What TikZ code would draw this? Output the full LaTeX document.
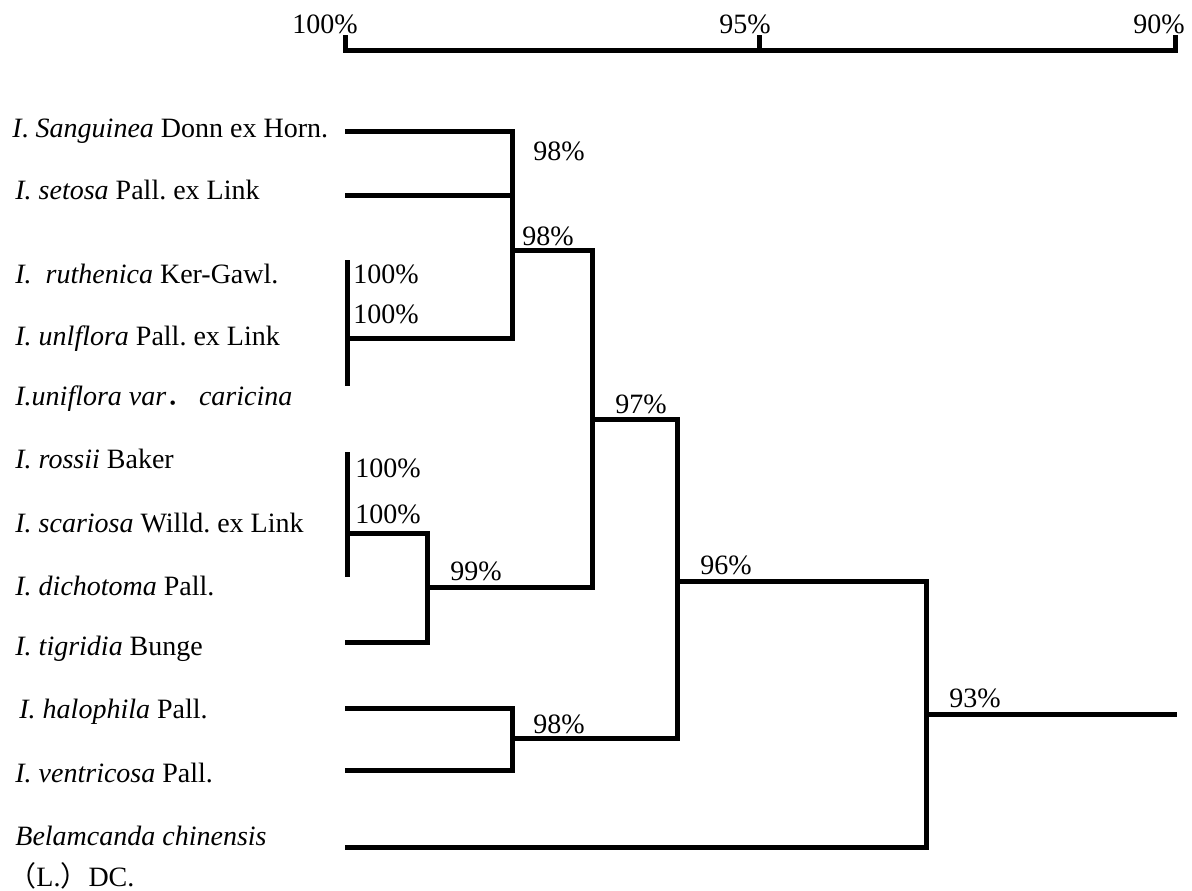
\documentclass[tikz,border=0pt]{standalone}
\usepackage{fontspec}
\setmainfont{Liberation Serif}
\newfontfamily\cjk{Noto Sans CJK SC}
\usetikzlibrary{positioning}

\begin{document}
\frenchspacing
\begin{tikzpicture}[x=0.5pt, y=-0.5pt,
      branch/.style={line width=2.5pt, line join=miter},
      taxon/.style={anchor=base west, inner sep=0pt, font=\fontsize{14}{17}\selectfont},
      sim/.style={anchor=base west, inner sep=0pt, font=\fontsize{14}{17}\selectfont},
      scalelab/.style={anchor=base east, inner sep=0pt, font=\fontsize{14}{17}\selectfont}
  ]
    \useasboundingbox (0,0) rectangle (1192,890);

    % similarity scale
    \coordinate (s100) at (345,50);
    \coordinate (s95)  at (759,50);
    \coordinate (s90)  at (1175,50);
    \draw[branch] ([yshift=7.5pt]s100) -- (s100) -- (s90) -- ([yshift=7.5pt]s90);
    \draw[branch] ([yshift=7.5pt]s95) -- (s95);
    \node[scalelab] (lab100) at (358,33)  {100\%};
    \node[scalelab] (lab95)  at (771,33)  {95\%};
    \node[scalelab] (lab90)  at (1185,33) {90\%};

    % taxa
    \node[taxon] (sanguinea)  at (12,137)  {\textit{I}. \textit{Sanguinea} Donn ex Horn.};
    \node[taxon] (setosa)     at (15,199)  {\textit{I. setosa} Pall. ex Link};
    \node[taxon] (ruthenica)  at (15,283)  {\textit{I.~~ruthenica} Ker-Gawl.};
    \node[taxon] (unlflora)   at (15,345)  {\textit{I. unlflora} Pall. ex Link};
    \node[taxon] (uniflora)   at (15,405)  {\textit{I.uniflora var}{\cjk ．}\,\textit{caricina}};
    \node[taxon] (rossii)     at (15,468)  {\textit{I. rossii} Baker};
    \node[taxon] (scariosa)   at (15,532)  {\textit{I. scariosa} Willd. ex Link};
    \node[taxon] (dichotoma)  at (15,595)  {\textit{I. dichotoma} Pall.};
    \node[taxon] (tigridia)   at (15,655)  {\textit{I. tigridia} Bunge};
    \node[taxon] (halophila)  at (19,718)  {\textit{I. halophila} Pall.};
    \node[taxon] (ventricosa) at (15,782)  {\textit{I. ventricosa} Pall.};
    \node[taxon] (belamcanda) at (15,845)  {\textit{Belamcanda chinensis}};
    \node[taxon] (belauthor)  at (8,886)   {{\cjk （}L.{\cjk ）}DC.};

    % leaf tips and clades
    \coordinate (tSang) at (345,131);
    \coordinate (tSet)  at (345,195);
    \coordinate (cUtop) at (347,260);
    \coordinate (cU)    at (347,338);
    \coordinate (cUbot) at (347,386);
    \coordinate (cRtop) at (347,452);
    \coordinate (cR)    at (347,533);
    \coordinate (cRbot) at (347,577);
    \coordinate (tTig)  at (345,642);
    \coordinate (tHal)  at (345,708);
    \coordinate (tVen)  at (345,770);
    \coordinate (tBel)  at (345,847);

    \coordinate (n1)   at (512,250);
    \coordinate (n2)   at (427,587);
    \coordinate (n3)   at (592,419);
    \coordinate (n4)   at (512,738);
    \coordinate (n5)   at (677,581);
    \coordinate (n6)   at (926,714);
    \coordinate (root) at (1177,714);

    \draw[branch] (cUtop) -- (cUbot);
    \draw[branch] (cRtop) -- (cRbot);
    \draw[branch] (tSang) -| (n1) |- (cU);
    \draw[branch] (tSet) -- (tSet -| n1);
    \draw[branch] (cR) -| (n2) |- (tTig);
    \draw[branch] (n1) -| (n3) |- (n2);
    \draw[branch] (tHal) -| (n4) |- (tVen);
    \draw[branch] (n3) -| (n5) |- (n4);
    \draw[branch] (n5) -| (n6) |- (tBel);
    \draw[branch] (n6) -- (root);

    % similarity values
    \node[sim] (v1a) at (353,283) {100\%};
    \node[sim] (v1b) at (353,323) {100\%};
    \node[sim] (v2a) at (355,477) {100\%};
    \node[sim] (v2b) at (355,523) {100\%};
    \node[sim] (v3)  at (533,160) {98\%};
    \node[sim] (v4)  at (522,245) {98\%};
    \node[sim] (v5)  at (450,580) {99\%};
    \node[sim] (v6)  at (615,413) {97\%};
    \node[sim] (v7)  at (533,733) {98\%};
    \node[sim] (v8)  at (700,574) {96\%};
    \node[sim] (v9)  at (949,707) {93\%};
  \end{tikzpicture}
\end{document}
